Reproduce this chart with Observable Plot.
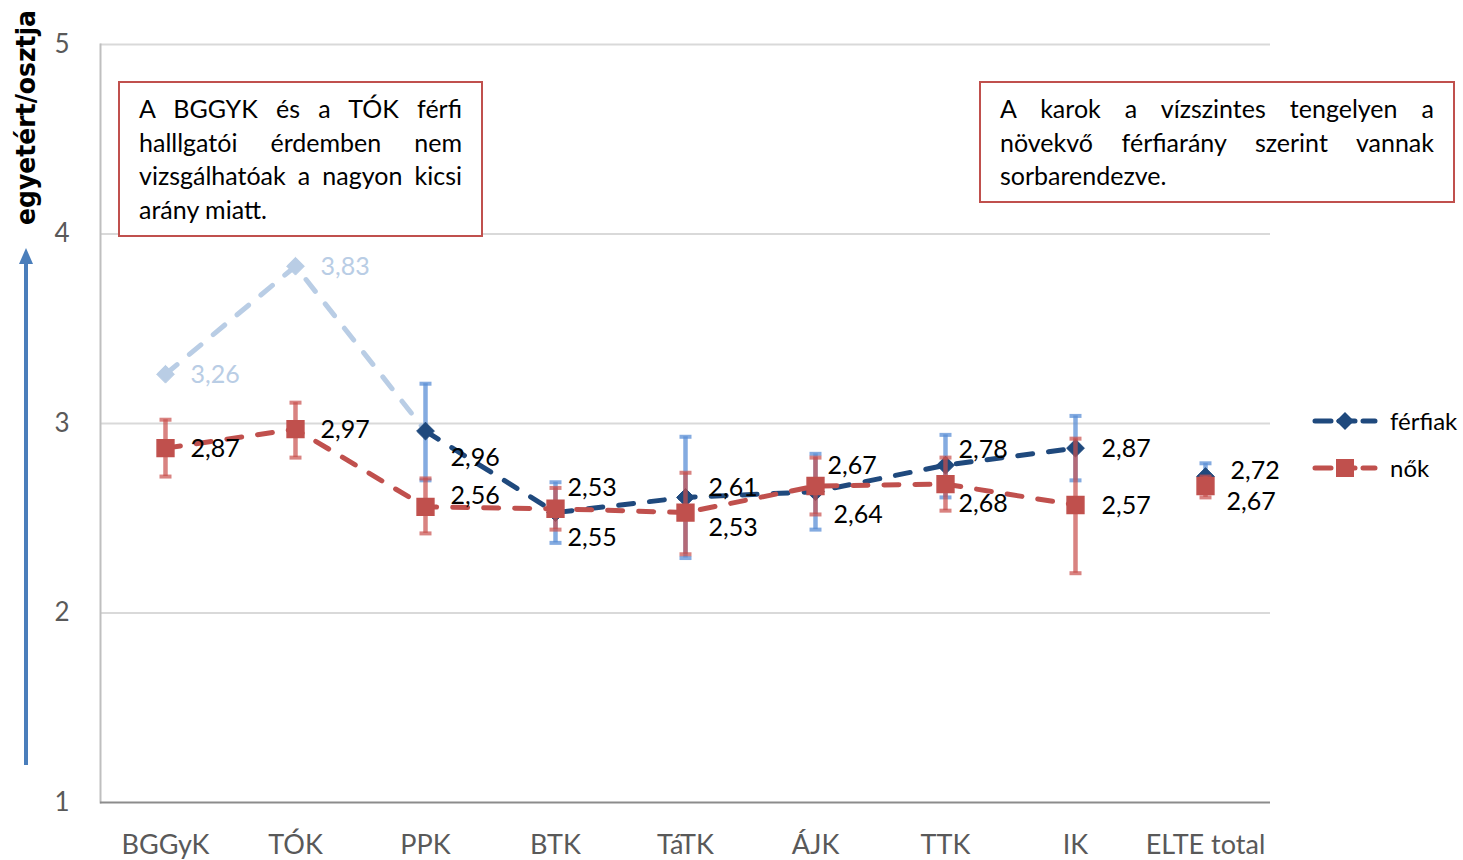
<!DOCTYPE html>
<html>
<head>
<meta charset="utf-8">
<script src="https://cdn.jsdelivr.net/npm/d3@7"></script>
<script src="https://cdn.jsdelivr.net/npm/@observablehq/plot@0.6"></script>
<style>
  html, body { margin: 0; padding: 0; background: #fff; }
  #wrap { position: relative; width: 1463px; height: 860px; font-family: Lato, "Open Sans", sans-serif; }
  .box { position: absolute; box-sizing: border-box; border: 2px solid #c0504d; background: #fff;
         font-family: Lato, sans-serif; font-size: 25px; line-height: 33.5px; color: #000; }
  .box .ln { white-space: nowrap; text-align: justify; text-align-last: justify; }
  .box .ln.last { text-align-last: left; }
  #legend { position: absolute; left: 1310px; top: 400px; font-family: Lato, sans-serif; font-size: 24px; }
  #legend .row { position: absolute; left: 0; width: 160px; height: 30px; }
  #legend .row span { position: absolute; left: 80px; top: 0; line-height: 30px; }
</style>
</head>
<body>
<div id="wrap"></div>
<script>
// ---- data ----
const categories = ["BGGyK", "TÓK", "PPK", "BTK", "TáTK", "ÁJK", "TTK", "IK", "ELTE total"];
const ferfiak     = [3.26, 3.83, 2.96, 2.53, 2.61, 2.64, 2.78, 2.87, 2.72];
const ferfiakLow  = [null, null, 2.70, 2.37, 2.29, 2.44, 2.61, 2.70, 2.65];
const ferfiakHigh = [null, null, 3.21, 2.69, 2.93, 2.84, 2.94, 3.04, 2.79];
const nok         = [2.87, 2.97, 2.56, 2.55, 2.53, 2.67, 2.68, 2.57, 2.67];
const nokLow      = [2.72, 2.82, 2.42, 2.44, 2.31, 2.52, 2.54, 2.21, 2.61];
const nokHigh     = [3.02, 3.11, 2.71, 2.66, 2.74, 2.82, 2.82, 2.92, 2.72];
const unreliableMen = ["BGGyK", "TÓK"];          // not evaluable (light blue)
const lineCats = categories.slice(0, 8);          // ELTE total not connected
const yTicks = [1, 2, 3, 4, 5];

// label placement (pixel offsets from the marker)
const menLabelDx = [25, 25, 25, 12, 23, 18, 13, 26, 25];
const menLabelDy = [1, 1, 27, -25, -9, 23, -15, 1, -6];
const womenLabelDx = [25, 25, 25, 12, 23, 12, 13, 26, 21];
const womenLabelDy = [1, 1, -11, 29, 15, -20, 20, 1, 16];

const fmt = v => v.toFixed(2).replace(".", ",");

const rows = categories.map((c, i) => ({
  cat: c, f: ferfiak[i], fLo: ferfiakLow[i], fHi: ferfiakHigh[i],
  n: nok[i], nLo: nokLow[i], nHi: nokHigh[i],
  fdx: menLabelDx[i], fdy: menLabelDy[i], ndx: womenLabelDx[i], ndy: womenLabelDy[i]
}));
const menLight = rows.filter(r => unreliableMen.includes(r.cat) || r.cat === "PPK");
const menDark = rows.filter(r => lineCats.includes(r.cat) && !unreliableMen.includes(r.cat));
const womenLine = rows.filter(r => lineCats.includes(r.cat));
const menBars = rows.filter(r => r.fLo != null);
const menSolid = rows.filter(r => !unreliableMen.includes(r.cat));
const menFaded = rows.filter(r => unreliableMen.includes(r.cat));

const C = { dark: "#1f497d", light: "#b9cde5", red: "#c0504d", blueBar: "#5b8fd6", redBar: "#c94f4c" };
const dash = "15,16";

// horizontal cap symbol for error bars
const capSymbol = { draw(ctx, size) { const h = Math.sqrt(size / Math.PI); ctx.moveTo(-h, 0); ctx.lineTo(h, 0); } };

const marks = [
  Plot.gridY(yTicks.slice(1), { stroke: "#d9d9d9", strokeOpacity: 1, strokeWidth: 2 }),
  Plot.frame({ anchor: "left", stroke: "#bfbfbf", strokeWidth: 2 }),
  Plot.ruleY([1], { stroke: "#8c8c8c", strokeWidth: 2 }),
  Plot.line(menLight, { x: "cat", y: "f", stroke: C.light, strokeWidth: 5, strokeDasharray: dash, strokeLinecap: "round" }),
  Plot.line(menDark, { x: "cat", y: "f", stroke: C.dark, strokeWidth: 5, strokeDasharray: dash, strokeLinecap: "round" }),
  Plot.ruleX(menBars, { x: "cat", y1: "fLo", y2: "fHi", stroke: C.blueBar, strokeOpacity: 0.75, strokeWidth: 4.5 }),
  Plot.dot(menBars, { x: "cat", y: "fLo", symbol: capSymbol, r: 6, fill: "none", stroke: C.blueBar, strokeOpacity: 0.75, strokeWidth: 4 }),
  Plot.dot(menBars, { x: "cat", y: "fHi", symbol: capSymbol, r: 6, fill: "none", stroke: C.blueBar, strokeOpacity: 0.75, strokeWidth: 4 }),
  Plot.dot(menFaded, { x: "cat", y: "f", symbol: "diamond2", r: 8, fill: C.light, stroke: C.light, strokeWidth: 1 }),
  Plot.dot(menSolid, { x: "cat", y: "f", symbol: "diamond2", r: 8, fill: C.dark, stroke: C.dark, strokeWidth: 1 }),
  Plot.line(womenLine, { x: "cat", y: "n", stroke: C.red, strokeWidth: 5, strokeDasharray: dash, strokeLinecap: "round" }),
  Plot.ruleX(rows, { x: "cat", y1: "nLo", y2: "nHi", stroke: C.redBar, strokeOpacity: 0.7, strokeWidth: 4.5 }),
  Plot.dot(rows, { x: "cat", y: "nLo", symbol: capSymbol, r: 6, fill: "none", stroke: C.redBar, strokeOpacity: 0.7, strokeWidth: 4 }),
  Plot.dot(rows, { x: "cat", y: "nHi", symbol: capSymbol, r: 6, fill: "none", stroke: C.redBar, strokeOpacity: 0.7, strokeWidth: 4 }),
  Plot.dot(rows, { x: "cat", y: "n", symbol: "square", r: 9.5, fill: C.red, stroke: C.red, strokeWidth: 1.5 })
];
rows.forEach(r => {
  marks.push(Plot.text([r], { x: "cat", y: "f", text: d => fmt(d.f), textAnchor: "start",
    dx: r.fdx, dy: r.fdy, fill: unreliableMen.includes(r.cat) ? C.light : "#000", fontSize: 25 }));
  marks.push(Plot.text([r], { x: "cat", y: "n", text: d => fmt(d.n), textAnchor: "start",
    dx: r.ndx, dy: r.ndy, fill: "#000", fontSize: 25 }));
});

const chart = Plot.plot({
  width: 1463, height: 860,
  marginLeft: 100, marginRight: 193, marginTop: 44, marginBottom: 58,
  style: { fontFamily: "Lato, sans-serif", background: "#fff", overflow: "visible" },
  x: { type: "point", domain: categories, padding: 0.5, label: null },
  y: { domain: [1, 5], label: null },
  marks: [
    Plot.axisY(yTicks, { tickSize: 0, tickPadding: 31, fontSize: 26, fill: "#595959", label: null, tickFormat: d => String(d) }),
    Plot.axisX({ tickSize: 0, tickPadding: 32, fontSize: 27, fill: "#595959", label: null }),
    ...marks
  ]
});

document.getElementById("wrap").appendChild(chart);

// y-axis title and arrow
const svg = d3.select(chart);
svg.append("text")
  .attr("transform", "translate(35,10) rotate(-90)")
  .attr("text-anchor", "end")
  .attr("font-family", "'DejaVu Sans Condensed', 'DejaVu Sans', sans-serif")
  .attr("font-weight", "bold")
  .attr("font-size", 26)
  .attr("textLength", 215)
  .attr("lengthAdjust", "spacingAndGlyphs")
  .attr("fill", "#000")
  .text("egyetért/osztja");
svg.append("line").attr("x1", 26).attr("x2", 26).attr("y1", 765).attr("y2", 262)
  .attr("stroke", "#4a7ebb").attr("stroke-width", 4);
svg.append("path").attr("d", "M26,248 L33,264 L19,264 Z").attr("fill", "#4a7ebb");

// annotation boxes
const wrap = document.getElementById("wrap");
function box(left, top, w, h, lines) {
  const d = document.createElement("div");
  d.className = "box";
  Object.assign(d.style, { left: left + "px", top: top + "px", width: w + "px", height: h + "px",
    padding: "9px 19px 0 19px" });
  lines.forEach((t, i) => {
    const l = document.createElement("div");
    l.className = "ln" + (i === lines.length - 1 ? " last" : "");
    l.textContent = t;
    d.appendChild(l);
  });
  wrap.appendChild(d);
}
box(118, 81, 365, 156, ["A BGGYK és a TÓK férfi", "halllgatói érdemben nem", "vizsgálhatóak a nagyon kicsi", "arány miatt."]);
box(979, 81, 476, 122, ["A karok a vízszintes tengelyen a", "növekvő férfiarány szerint vannak", "sorbarendezve."]);

// legend
const leg = document.createElement("div");
leg.id = "legend";
leg.innerHTML = `
  <div class="row" style="top:6px">
    <svg width="70" height="30" style="position:absolute;left:0;top:0">
      <line x1="5" x2="65" y1="15" y2="15" stroke="${C.dark}" stroke-width="5" stroke-dasharray="16,8" stroke-linecap="round"/>
      <path d="M35,6 L44,15 L35,24 L26,15 Z" fill="${C.dark}"/>
    </svg><span>férfiak</span></div>
  <div class="row" style="top:53px">
    <svg width="70" height="30" style="position:absolute;left:0;top:0">
      <line x1="5" x2="65" y1="15" y2="15" stroke="${C.red}" stroke-width="5" stroke-dasharray="16,8" stroke-linecap="round"/>
      <rect x="26" y="6" width="18" height="18" fill="${C.red}"/>
    </svg><span>nők</span></div>`;
wrap.appendChild(leg);
</script>
</body>
</html>
